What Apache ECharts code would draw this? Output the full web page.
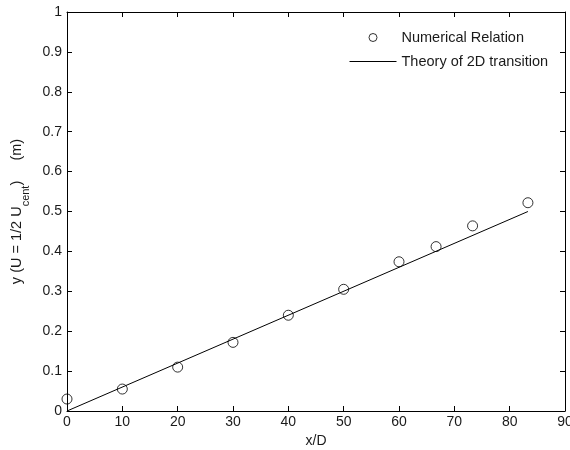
<!DOCTYPE html>
<html>
<head>
<meta charset="utf-8">
<script src="https://cdn.jsdelivr.net/npm/echarts@6/dist/echarts.min.js"></script>
<style>
html,body{margin:0;padding:0;background:#fff;}
#chart{width:570px;height:450px;}
</style>
</head>
<body>
<div id="chart"></div>
<script>
const xTicks = [0,10,20,30,40,50,60,70,80,90];
const yTicks = [0,0.1,0.2,0.3,0.4,0.5,0.6,0.7,0.8,0.9,1];
const numX = [0, 10, 20, 30, 40, 50, 60, 66.7, 73.3, 83.3];
const numY = [0.03, 0.055, 0.11, 0.172, 0.24, 0.305, 0.374, 0.412, 0.464, 0.522];
const theoryX = [0, 83.3];
const theoryY = [0, 0.5];
const seriesNames = ['Numerical Relation', 'Theory of 2D transition'];

const font = 'Liberation Sans';
const txt = '#1a1a1a';
const fs = 14;
const axisCommon = {
  axisLine: {show: true, onZero: false, lineStyle: {color: '#000', width: 1}},
  axisTick: {show: true, inside: true, length: 5, lineStyle: {color: '#000'}},
  splitLine: {show: false}
};
const chart = echarts.init(document.getElementById('chart'), null, {renderer: 'canvas'});
chart.setOption({
  animation: false,
  backgroundColor: '#fff',
  grid: {left: 67, right: 5, top: 12, bottom: 39, containLabel: false, outerBoundsMode: 'none'},
  legend: {
    orient: 'vertical', left: 344, top: 25, itemGap: 9,
    itemWidth: 47, itemHeight: 8,
    textStyle: {fontFamily: font, fontSize: 14.5, color: txt},
    data: [
      {name: seriesNames[0], icon: 'circle', itemStyle: {color: 'rgba(255,255,255,0)', borderColor: '#000', borderWidth: 1}},
      {name: seriesNames[1], itemStyle: {opacity: 0}, lineStyle: {color: '#000', width: 1}}
    ]
  },
  xAxis: [
    Object.assign({type: 'value', min: 0, max: 90, interval: 10, position: 'bottom',
      name: 'x/D', nameLocation: 'middle', nameGap: 22,
      nameTextStyle: {fontFamily: font, fontSize: fs, color: txt},
      axisLabel: {fontFamily: font, fontSize: fs, color: txt, margin: 4}}, axisCommon),
    Object.assign({type: 'value', min: 0, max: 90, interval: 10, position: 'top',
      axisLabel: {show: false}}, axisCommon)
  ],
  yAxis: [
    Object.assign({type: 'value', min: 0, max: 1, interval: 0.1, position: 'left',
      name: 'y (U = 1/2 U{sub|cent})     (m)', nameLocation: 'middle', nameGap: 36,
      nameTextStyle: {fontFamily: font, fontSize: 14.5, color: txt,
        rich: {sub: {fontFamily: font, fontSize: 11, color: txt, verticalAlign: 'bottom', padding: [0,0,-7,0]}}},
      axisLabel: {fontFamily: font, fontSize: fs, color: txt, margin: 5,
        formatter: v => String(Math.round(v*10)/10)}}, axisCommon),
    Object.assign({type: 'value', min: 0, max: 1, interval: 0.1, position: 'right',
      axisLabel: {show: false}}, axisCommon)
  ],
  series: [
    {
      name: seriesNames[0], type: 'scatter',
      data: numX.map((x, i) => [x, numY[i]]),
      symbol: 'circle', symbolSize: 10,
      itemStyle: {color: 'rgba(255,255,255,0)', borderColor: '#000', borderWidth: 1},
      z: 3
    },
    {
      name: seriesNames[1], type: 'line',
      data: theoryX.map((x, i) => [x, theoryY[i]]),
      symbol: 'none', showSymbol: false,
      lineStyle: {color: '#000', width: 1},
      itemStyle: {color: '#000'},
      z: 2
    }
  ]
});
</script>
</body>
</html>
